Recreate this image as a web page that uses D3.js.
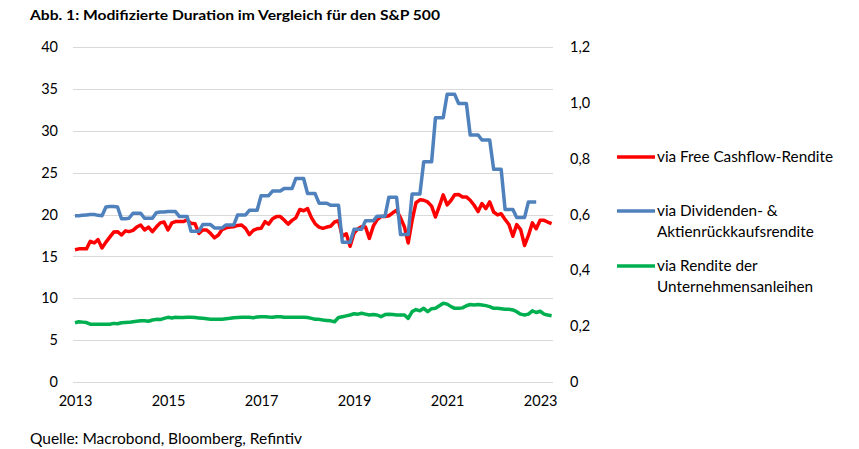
<!DOCTYPE html>
<html>
<head>
<meta charset="utf-8">
<script src="https://cdn.jsdelivr.net/npm/d3@7"></script>
<style>
  body { margin: 0; background: #fff; }
  svg text { font-family: Lato, "Open Sans", sans-serif; fill: #000; }
</style>
</head>
<body>
<div id="chart"></div>
<script>
// monthly values, Jan 2013 - Apr 2023
const startYear = 2013;
const yearTicks = [2013, 2015, 2017, 2019, 2021, 2023];
const leftTicks = [0, 5, 10, 15, 20, 25, 30, 35, 40];
const rightTicks = [0, 0.2, 0.4, 0.6, 0.8, 1.0, 1.2];

const seriesNames = [
  ['via Free Cashflow-Rendite'],
  ['via Dividenden- &', 'Aktienrückkaufsrendite'],
  ['via Rendite der', 'Unternehmensanleihen']
];
const seriesColors = ['#FF0000', '#4F81BD', '#00B050'];

const freeCashflow = [
  15.8, 15.9, 15.9, 15.9, 16.8, 16.6, 17.0, 16.0, 16.7, 17.3, 17.9, 17.95,
  17.55, 18.05, 17.95, 18.1, 18.5, 18.75, 18.15, 18.5, 17.95, 18.5, 19.0, 19.1,
  18.15, 19.0, 19.15, 19.15, 19.15, 19.35, 18.95, 18.9, 17.75, 18.15, 18.15, 17.75,
  17.2, 17.55, 18.2, 18.4, 18.5, 18.55, 18.7, 18.75, 18.35, 17.6, 18.1, 18.3,
  18.35, 19.15, 18.85, 19.5, 19.75, 19.75, 19.35, 18.85, 19.3, 19.6, 20.6, 20.45,
  20.7, 19.6, 18.9, 18.5, 18.35, 18.5, 18.6, 19.1, 19.25, 17.4, 17.7, 16.2,
  17.8, 18.3, 18.55, 18.5, 17.15, 18.6, 19.4, 19.75, 19.75, 19.85, 20.2, 20.5,
  19.6, 18.5, 16.6, 19.3, 21.4, 21.75, 21.7, 21.5, 21.0, 19.7, 21.0, 22.35,
  21.15, 21.7, 22.35, 22.4, 22.1, 22.1, 21.7, 21.1, 20.35, 21.3, 20.7, 21.5,
  20.3, 19.95, 20.1, 19.4, 18.8, 17.4, 18.8, 18.2, 16.3, 17.5, 19.0, 18.3,
  19.3, 19.3, 19.1, 18.9
];

const dividenden = [
  19.85, 19.85, 19.9, 19.95, 20.0, 20.0, 19.9, 19.85, 20.9, 20.95, 20.95, 20.9,
  19.5, 19.5, 19.55, 20.15, 20.15, 20.15, 19.55, 19.55, 19.55, 20.2, 20.3, 20.3,
  20.35, 20.35, 20.35, 19.75, 19.75, 19.75, 18.0, 18.0, 18.0, 18.8, 18.8, 18.8,
  18.4, 18.4, 18.4, 18.75, 18.75, 18.75, 19.95, 19.95, 19.95, 20.5, 20.5, 20.5,
  22.25, 22.25, 22.25, 22.8, 22.8, 22.8, 23.1, 23.1, 23.1, 24.3, 24.3, 24.3,
  22.5, 22.5, 22.5, 21.35, 21.35, 21.35, 21.1, 21.1, 21.1, 16.7, 16.7, 16.7,
  18.25, 18.25, 18.25, 19.25, 19.25, 19.25, 19.8, 19.8, 19.8, 22.05, 22.05, 22.05,
  17.6, 17.6, 17.6, 22.45, 22.45, 22.45, 26.3, 26.3, 26.3, 31.55, 31.55, 31.55,
  34.35, 34.35, 34.35, 33.25, 33.25, 33.25, 29.5, 29.5, 29.5, 28.9, 28.9, 28.9,
  25.4, 25.4, 25.4, 20.6, 20.6, 20.6, 19.65, 19.65, 19.65, 21.5, 21.5, 21.5,
  null, null, null, null
];

const anleihen = [
  7.08, 7.2, 7.15, 7.1, 6.9, 6.89, 6.89, 6.89, 6.89, 6.9, 7.0, 6.95,
  7.08, 7.1, 7.12, 7.2, 7.25, 7.3, 7.32, 7.25, 7.4, 7.48, 7.45, 7.6,
  7.72, 7.65, 7.72, 7.7, 7.7, 7.72, 7.72, 7.7, 7.65, 7.6, 7.55, 7.5,
  7.48, 7.48, 7.5, 7.55, 7.6, 7.68, 7.7, 7.72, 7.72, 7.72, 7.68, 7.75,
  7.8, 7.8, 7.75, 7.72, 7.8, 7.78, 7.72, 7.72, 7.72, 7.72, 7.72, 7.72,
  7.7, 7.6, 7.5, 7.48, 7.4, 7.35, 7.3, 7.2, 7.7, 7.8, 7.9, 8.0,
  8.15, 8.1, 8.2, 8.1, 8.0, 8.05, 8.0, 7.8, 8.05, 8.08, 8.05, 8.0,
  8.0, 8.0, 7.6, 8.4, 8.65, 8.5, 8.8, 8.4, 8.75, 8.8, 9.1, 9.4,
  9.3, 9.0, 8.8, 8.8, 8.85, 9.1, 9.25, 9.2, 9.25, 9.2, 9.12, 9.0,
  8.8, 8.8, 8.75, 8.7, 8.68, 8.6, 8.4, 8.1, 8.0, 8.1, 8.5, 8.3,
  8.45, 8.1, 8.0, 7.92
];

const width = 859;
const height = 449;

const svg = d3.select('#chart')
  .append('svg')
  .attr('width', width)
  .attr('height', height);

const dates = freeCashflow.map((d, i) => new Date(startYear, i, 1));

const x = d3.scaleTime()
  .domain([dates[0], dates[dates.length - 1]])
  .range([75, 551.6]);

const y = d3.scaleLinear().domain([0, 40]).range([382, 47]);
const y2 = d3.scaleLinear().domain([0, 1.2]).range([382, 47]);

const de = d3.formatLocale({ decimal: ',', thousands: '.', grouping: [3], currency: ['', ' €'] });

// title
svg.append('text')
  .attr('x', 30)
  .attr('y', 20)
  .attr('font-size', 13.5)
  .attr('font-weight', 'bold')
  .attr('font-family', '"Open Sans", sans-serif')
  .attr('textLength', 410)
  .attr('lengthAdjust', 'spacingAndGlyphs')
  .text('Abb. 1: Modifizierte Duration im Vergleich für den S&P 500');

// gridlines
svg.append('g')
  .selectAll('line')
  .data(leftTicks)
  .enter()
  .append('line')
  .attr('x1', 73)
  .attr('x2', 553)
  .attr('y1', d => Math.round(y(d)) + 0.5)
  .attr('y2', d => Math.round(y(d)) + 0.5)
  .attr('stroke', '#D9D9D9')
  .attr('stroke-width', 1);

// left axis
const leftAxis = svg.append('g')
  .attr('transform', 'translate(58,0)')
  .call(d3.axisLeft(y).tickValues(leftTicks).tickSize(0).tickPadding(0));
leftAxis.select('.domain').remove();
leftAxis.selectAll('text').attr('font-size', 14.5).attr('font-family', 'Lato, sans-serif');

// right axis
const rightAxis = svg.append('g')
  .attr('transform', 'translate(570,0)')
  .call(d3.axisRight(y2).tickValues(rightTicks).tickSize(0).tickPadding(0)
    .tickFormat(d => d === 0 ? '0' : de.format('.1f')(d)));
rightAxis.select('.domain').remove();
rightAxis.selectAll('text').attr('font-size', 14.5).attr('font-family', 'Lato, sans-serif');

// x axis
const xAxis = svg.append('g')
  .attr('transform', 'translate(0,396)')
  .call(d3.axisBottom(x)
    .tickValues(yearTicks.map(yr => new Date(yr, 0, 1)))
    .tickFormat(d3.timeFormat('%Y'))
    .tickSize(0)
    .tickPadding(0));
xAxis.select('.domain').remove();
xAxis.selectAll('text').attr('font-size', 14.5).attr('font-family', 'Lato, sans-serif');

// lines
const line = d3.line()
  .defined(d => d.v !== null)
  .x(d => x(d.date))
  .y(d => y(d.v));

const allSeries = [freeCashflow, dividenden, anleihen];

allSeries.forEach((values, i) => {
  svg.append('path')
    .datum(values.map((v, j) => ({ date: dates[j], v: v })))
    .attr('fill', 'none')
    .attr('stroke', seriesColors[i])
    .attr('stroke-width', 3.5)
    .attr('stroke-linejoin', 'round')
    .attr('d', line);
});

// legend
const legendY = [157, 211, 266];

const legend = svg.append('g')
  .selectAll('g')
  .data(seriesNames)
  .enter()
  .append('g')
  .attr('transform', (d, i) => `translate(617, ${legendY[i]})`);

legend.append('line')
  .attr('x1', 0)
  .attr('x2', 38)
  .attr('stroke', (d, i) => seriesColors[i])
  .attr('stroke-width', 3.5);

legend.each(function (lines) {
  const g = d3.select(this);
  lines.forEach((t, k) => {
    g.append('text')
      .attr('x', 40)
      .attr('y', 5 + k * 21)
      .attr('font-size', 15.3)
      .text(t);
  });
});

// source
svg.append('text')
  .attr('x', 30)
  .attr('y', 444)
  .attr('font-size', 15.5)
  .text('Quelle: Macrobond, Bloomberg, Refintiv');
</script>
</body>
</html>
